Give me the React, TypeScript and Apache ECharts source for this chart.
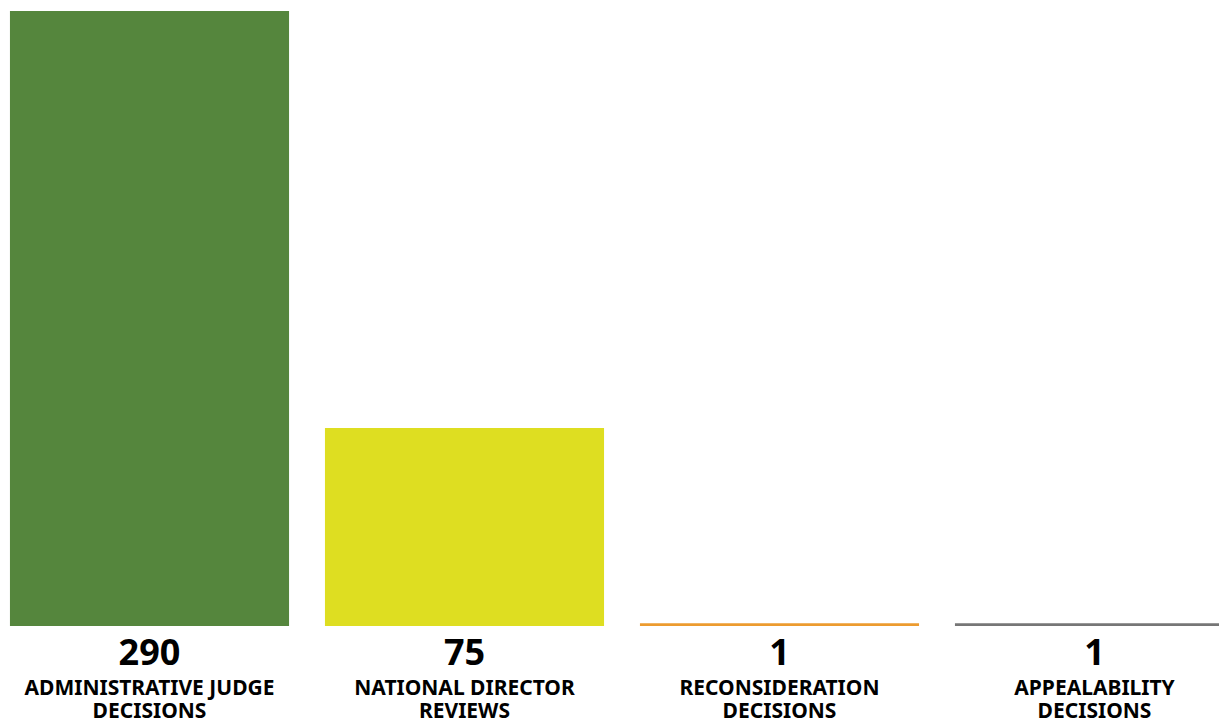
import React, { useEffect, useRef } from "react";
import * as echarts from "echarts";

const categories = [
  ["ADMINISTRATIVE JUDGE", "DECISIONS"],
  ["NATIONAL DIRECTOR", "REVIEWS"],
  ["RECONSIDERATION", "DECISIONS"],
  ["APPEALABILITY", "DECISIONS"],
];
const values = [290, 75, 1, 1];
const colors = ["#55863D", "#DEDE21", "#EC9B2F", "#767676"];

export default function App() {
  const ref = useRef<HTMLDivElement>(null);
  useEffect(() => {
    if (!ref.current) return;
    const chart = echarts.init(ref.current, null, { renderer: "svg" });
    const font = "'Noto Sans', Roboto, sans-serif";
    chart.setOption({
      animation: false,
      grid: { left: 0, top: 11, width: 1260, bottom: 95, containLabel: false },
      xAxis: {
        type: "category",
        data: categories.map((c, i) => i),
        axisLine: { show: false },
        axisTick: { show: false },
        axisLabel: {
          interval: 0,
          margin: 1,
          formatter: (v: string) => {
            const i = Number(v);
            return `{v|${values[i]}}\n` + categories[i].map((s) => `{n|${s}}`).join("\n");
          },
          rich: {
            v: { fontSize: 36, fontWeight: "bold", color: "#000", lineHeight: 48, fontFamily: font },
            n: { fontSize: 21, fontWeight: "bold", color: "#000", lineHeight: 23, fontFamily: font },
          },
        },
      },
      yAxis: {
        type: "value",
        min: 0,
        max: 233,
        show: false,
        splitLine: { show: false },
      },
      series: [
        {
          type: "bar",
          clip: true,
          barCategoryGap: "11.4%",
          data: values.map((v, i) => ({ value: v, itemStyle: { color: colors[i] } })),
        },
      ],
    });
    return () => chart.dispose();
  }, []);
  return (
    <div style={{ position: "absolute", left: 0, top: 0, width: 1219, height: 721, overflow: "hidden" }}>
      <div ref={ref} style={{ position: "absolute", left: -8, top: 0, width: 1268, height: 721 }} />
    </div>
  );
}
